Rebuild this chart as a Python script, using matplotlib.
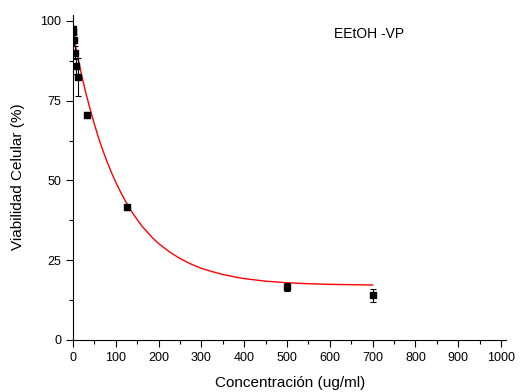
# Cell viability vs concentration with exponential decay fit (EEtOH -VP)

import matplotlib
matplotlib.use("Agg")
import matplotlib.pyplot as plt
from matplotlib.ticker import MultipleLocator

plt.rcParams['font.family'] = ['Liberation Sans', 'DejaVu Sans']

# measured points
conc = [0.5, 1, 2, 4, 8, 12, 32, 125, 500, 700]
viab = [97.5, 96.5, 94, 90, 86, 82.5, 70.5, 41.5, 16.5, 14]
err = [1.0, 1.5, 2.0, 2.0, 2.5, 6.0, 0.8, 0.8, 1.2, 2.0]

# fitted curve
fit_x = [0, 10, 20, 30, 40, 50, 60, 70, 80, 90, 100, 112, 125, 137, 150,
         162, 175, 187, 200, 225, 250, 275, 300, 325, 350, 375, 400, 450,
         500, 550, 600, 650, 700]
fit_y = [96.0, 89.3, 83.1, 77.4, 72.3, 67.6, 63.2, 59.3, 55.7, 52.4, 49.4,
         46.1, 42.9, 40.2, 37.7, 35.5, 33.6, 31.8, 30.2, 27.6, 25.5, 23.8,
         22.4, 21.4, 20.5, 19.8, 19.2, 18.4, 17.9, 17.6, 17.4, 17.3, 17.2]

fig = plt.figure(figsize=(5.29, 3.92), dpi=100)
ax = fig.add_axes([0.138, 0.133, 0.819, 0.83])

ax.plot(fit_x, fit_y, color='red', lw=1.0, zorder=2)
ax.errorbar(conc, viab, yerr=err, fmt='s', color='black', ms=5,
            ecolor='black', elinewidth=0.8, capsize=2.5, capthick=0.8,
            zorder=3)

ax.text(610, 96, "EEtOH -VP", fontsize=10, va='center', ha='left')

ax.set_xlim(0, 1012)
ax.set_ylim(0, 102)
ax.xaxis.set_major_locator(MultipleLocator(100))
ax.xaxis.set_minor_locator(MultipleLocator(50))
ax.yaxis.set_major_locator(MultipleLocator(25))
ax.yaxis.set_minor_locator(MultipleLocator(12.5))
ax.tick_params(which='major', direction='out', length=5, width=0.8,
               labelsize=9)
ax.tick_params(which='minor', direction='out', length=3, width=0.8)

for s in ['top', 'right']:
    ax.spines[s].set_visible(False)

ax.set_xlabel("Concentración (ug/ml)", fontsize=11, labelpad=9)
ax.set_ylabel("Viabilidad Celular (%)", fontsize=11, labelpad=11)

fig.savefig("out.png", dpi=100)
